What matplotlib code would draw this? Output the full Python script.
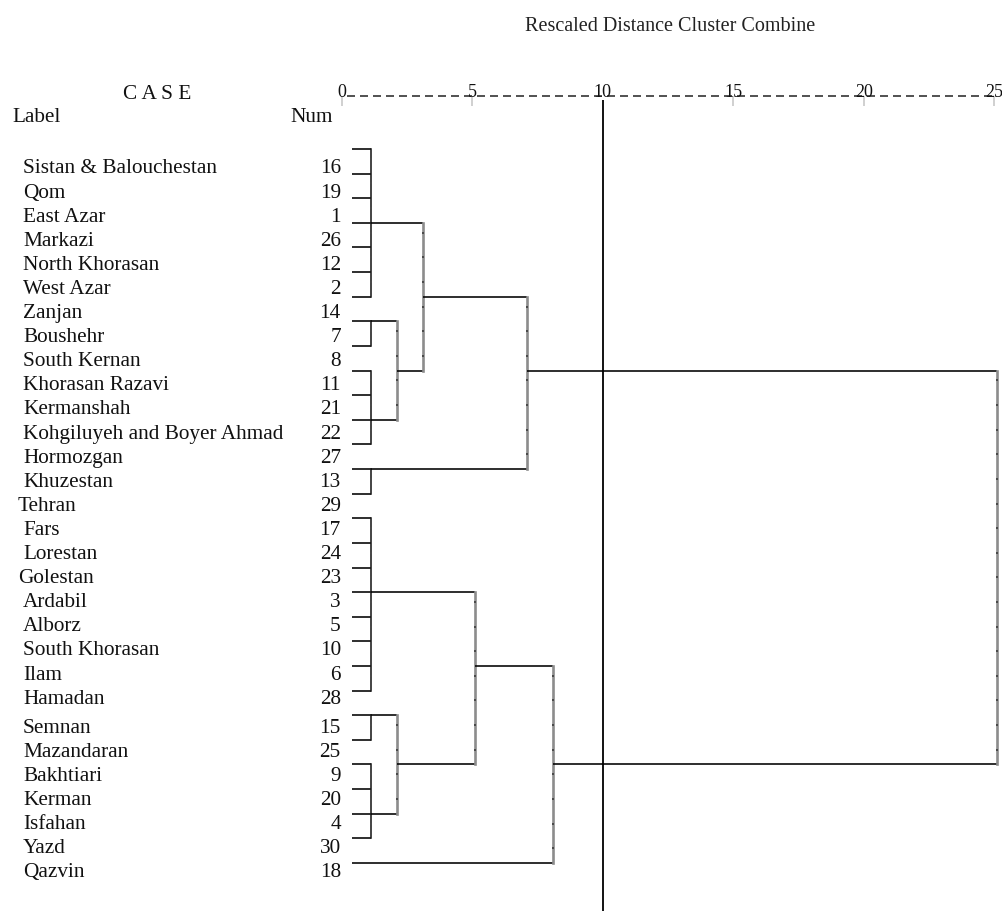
import matplotlib
matplotlib.use("Agg")
import matplotlib.pyplot as plt
import numpy as np

plt.rcParams['font.family'] = ['Liberation Serif', 'DejaVu Serif']

# case labels and case numbers, top to bottom as listed in the output
labels = ["Sistan & Balouchestan", "Qom", "East Azar", "Markazi", "North Khorasan",
          "West Azar", "Zanjan", "Boushehr", "South Kernan", "Khorasan Razavi",
          "Kermanshah", "Kohgiluyeh and Boyer Ahmad", "Hormozgan", "Khuzestan",
          "Tehran", "Fars", "Lorestan", "Golestan", "Ardabil", "Alborz",
          "South Khorasan", "Ilam", "Hamadan", "Semnan", "Mazandaran", "Bakhtiari",
          "Kerman", "Isfahan", "Yazd", "Qazvin"]
case_num = [16, 19, 1, 26, 12, 2, 14, 7, 8, 11, 21, 22, 27, 13, 29, 17, 24, 23,
            3, 5, 10, 6, 28, 15, 25, 9, 20, 4, 30, 18]

# first level clusters: first/last leaf row, row where the cluster links upward
grp_first = [0, 7, 9, 13, 15, 23, 25, 29]
grp_last = [6, 8, 12, 14, 22, 24, 28, 29]
grp_link = [3, 7, 11, 13, 18, 23, 27, 29]
grp_dist = 1.1

# later merges: child a, child b (ids go on after the groups), rescaled distance
merge_a = [1, 0, 9, 5, 4, 12, 10]
merge_b = [2, 8, 3, 6, 11, 7, 13]
merge_dist = [2.1, 3.1, 7.1, 2.1, 5.1, 8.1, 25.1]

axis_ticks = [0, 5, 10, 15, 20, 25]
cut_level = 10

fig = plt.figure(figsize=(10.03, 9.12), dpi=100)
ax = fig.add_axes([0, 0, 1, 1])
ax.set_xlim(-13.1, 25.33)
ax.set_ylim(30.95, -6.09)
ax.axis('off')

fs = 15.3
leaf_start = 0.38
lw = 1.15


def dots(x, r0, r1):
    ys = np.arange(r0, r1) + 0.4
    ax.plot(np.full(len(ys), x), ys, ls='none', marker='s', ms=1.6,
            color='#4a4a4a', mew=0)


node_x = []
node_row = []
for f, l, r in zip(grp_first, grp_last, grp_link):
    if l > f:
        rows = np.arange(f, l + 1)
        ax.hlines(rows, leaf_start, grp_dist, color='k', lw=lw)
        ax.vlines(grp_dist, f, l, color='#1a1a1a', lw=lw, capstyle='projecting')
        dots(grp_dist, f, l)
        node_x.append(grp_dist)
    else:
        node_x.append(leaf_start)
    node_row.append(r)

for a, b, d in zip(merge_a, merge_b, merge_dist):
    ra, rb = node_row[a], node_row[b]
    ax.hlines([ra, rb], [node_x[a], node_x[b]], d, color='k', lw=lw)
    ax.vlines(d, min(ra, rb), max(ra, rb), color='#8c8c8c', lw=1.9,
              capstyle='projecting')
    dots(d, min(ra, rb), max(ra, rb))
    node_x.append(d)
    node_row.append((ra + rb) // 2)

# case labels + numbers
for i, (name, num) in enumerate(zip(labels, case_num)):
    yb = (23.5 + 24.1 * i + (5 if i >= 23 else 0)) / 24.62
    x0 = -12.41 if name in ("Tehran", "Golestan") else -12.22
    ax.text(x0, yb, name, fontsize=fs, ha='left', va='baseline', color='#111')
    ax.text(-0.04, yb, str(num), fontsize=fs, ha='right', va='baseline', color='#111')

# header
ax.text(-7.09, -2.07, "C A S E", fontsize=fs, ha='center', va='baseline', color='#111')
ax.text(-12.64, -1.14, "Label", fontsize=fs, ha='left', va='baseline', color='#111')
ax.text(-1.99, -1.14, "Num", fontsize=fs, ha='left', va='baseline', color='#111')
ax.text(12.57, -4.83, "Rescaled Distance Cluster Combine", fontsize=14.5,
        ha='center', va='baseline', color='#222')

ax.plot([0.2, 25.1], [-2.15, -2.15], color='#333', lw=1.2, ls=(0, (4.8, 3.0)))
for t in axis_ticks:
    ax.text(t, -2.15, str(t), fontsize=13, ha='center', va='baseline', color='#111')
    if t != cut_level:
        ax.vlines(t, -2.15, -1.75, color='#c8c8c8', lw=1.2)

ax.vlines(cut_level, -2.0, 30.95, color='k', lw=1.3)

fig.savefig("out.png", dpi=100, facecolor='white')
